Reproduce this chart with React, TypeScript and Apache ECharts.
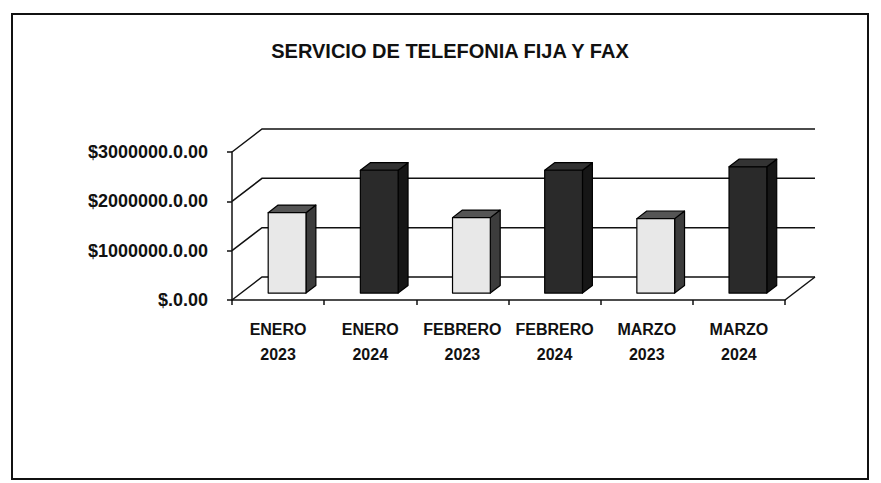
import React, { useEffect, useRef } from "react";
import * as echarts from "echarts";

const categories = [
  "ENERO\n2023",
  "ENERO\n2024",
  "FEBRERO\n2023",
  "FEBRERO\n2024",
  "MARZO\n2023",
  "MARZO\n2024",
];
const years = [2023, 2024, 2023, 2024, 2023, 2024];
const values = [1630000, 2490000, 1530000, 2490000, 1510000, 2560000];
const yTicks = [0, 1000000, 2000000, 3000000];
const title = "SERVICIO DE TELEFONIA FIJA Y FAX";

const DX = 30;
const DY = -23;
const F0 = 0.3;
const F1 = 0.63;
const FONT = "Liberation Sans, Arial, sans-serif";

const faceColors: Record<number, { front: string; side: string; top: string }> = {
  2023: { front: "#e8e8e8", side: "#3c3c3c", top: "#555555" },
  2024: { front: "#2a2a2a", side: "#161616", top: "#333333" },
};

export default function App() {
  const ref = useRef<HTMLDivElement>(null);
  useEffect(() => {
    document.body.style.margin = "0";
    const chart = echarts.init(ref.current!, null, { renderer: "svg" });
    const option: any = {
      animation: false,
      backgroundColor: "#ffffff",
      grid: { left: 232, right: 96, top: 152, bottom: 183 },
      xAxis: {
        type: "category",
        data: categories,
        boundaryGap: true,
        axisLine: { show: true, lineStyle: { color: "#111", width: 1.5 } },
        axisTick: { show: true, length: 5, lineStyle: { color: "#111", width: 1.5 } },
        axisLabel: {
          margin: 17,
          fontSize: 16,
          lineHeight: 25,
          fontWeight: "bold",
          fontFamily: FONT,
          color: "#111",
          interval: 0,
        },
        splitLine: { show: false },
      },
      yAxis: {
        type: "value",
        min: 0,
        max: 3000000,
        interval: 1000000,
        axisLine: { show: true, lineStyle: { color: "#111", width: 1.5 } },
        axisTick: { show: true, length: 5, lineStyle: { color: "#111", width: 1.5 } },
        splitLine: { show: false },
        axisLabel: {
          margin: 24,
          fontSize: 18,
          fontWeight: "bold",
          fontFamily: FONT,
          color: "#111",
          formatter: (v: number) => (v === 0 ? "$.0.00" : "$" + v + ".0.00"),
        },
      },
      graphic: [
        {
          type: "rect",
          shape: { x: 12, y: 14, width: 856, height: 465 },
          style: { fill: "none", stroke: "#111", lineWidth: 2 },
          silent: true,
        },
        {
          type: "text",
          x: 450,
          y: 51,
          style: {
            text: title,
            fontSize: 20,
            fontWeight: "bold",
            fontFamily: FONT,
            fill: "#111",
            textAlign: "center",
            textVerticalAlign: "middle",
          },
        },
      ],
      series: [
        {
          type: "custom",
          z: 1,
          silent: true,
          data: yTicks.map((v) => [0, v]),
          encode: { x: 0, y: 1 },
          renderItem: (params: any, api: any) => {
            const cs = params.coordSys;
            const v = api.value(1);
            const y = api.coord([0, v])[1];
            const children: any[] = [
              {
                type: "polyline",
                shape: {
                  points: [
                    [cs.x, y],
                    [cs.x + DX, y + DY],
                    [cs.x + cs.width + DX, y + DY],
                  ],
                },
                style: { stroke: "#111", lineWidth: 1.5, fill: "none" },
              },
            ];
            if (v === 0) {
              children.push({
                type: "line",
                shape: { x1: cs.x + cs.width, y1: y, x2: cs.x + cs.width + DX, y2: y + DY },
                style: { stroke: "#111", lineWidth: 1.5 },
              });
            }
            return { type: "group", children };
          },
        },
        {
          type: "custom",
          z: 2,
          data: values.map((v, i) => [i, v, years[i]]),
          encode: { x: 0, y: 1 },
          renderItem: (params: any, api: any) => {
            const i = api.value(0);
            const v = api.value(1);
            const yr = api.value(2);
            const c = faceColors[yr];
            const base = api.coord([i, 0]);
            const top = api.coord([i, v]);
            const band = api.size([1, 0])[0];
            const bw = band * 0.41;
            const x0 = base[0] + F0 * DX - bw / 2;
            const x1 = x0 + bw;
            const yb = base[1] + F0 * DY;
            const yt = top[1] + F0 * DY;
            const ox = (F1 - F0) * DX;
            const oy = (F1 - F0) * DY;
            const stroke = { stroke: "#000", lineWidth: 1.2, lineJoin: "round" };
            return {
              type: "group",
              children: [
                {
                  type: "polygon",
                  shape: { points: [[x1, yt], [x1 + ox, yt + oy], [x1 + ox, yb + oy], [x1, yb]] },
                  style: { fill: c.side, ...stroke },
                },
                {
                  type: "polygon",
                  shape: { points: [[x0, yt], [x0 + ox, yt + oy], [x1 + ox, yt + oy], [x1, yt]] },
                  style: { fill: c.top, ...stroke },
                },
                {
                  type: "polygon",
                  shape: { points: [[x0, yt], [x1, yt], [x1, yb], [x0, yb]] },
                  style: { fill: c.front, ...stroke },
                },
              ],
            };
          },
        },
      ],
    };
    chart.setOption(option);
    return () => chart.dispose();
  }, []);
  return <div ref={ref} style={{ width: 881, height: 483 }} />;
}
